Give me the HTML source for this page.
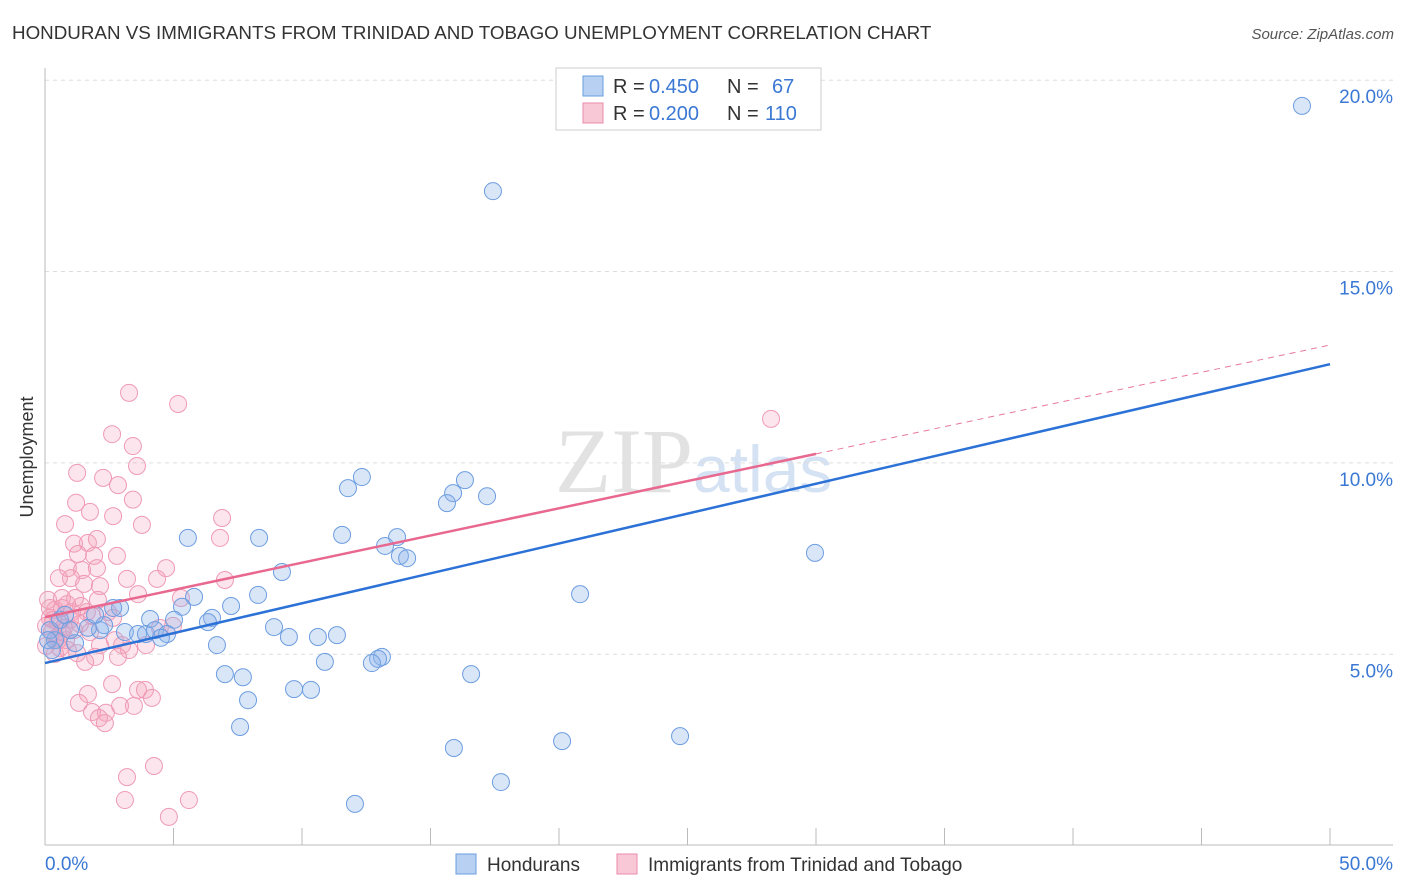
<!DOCTYPE html>
<html><head><meta charset="utf-8"><style>
body{margin:0;background:#fff;font-family:"Liberation Sans",sans-serif}
svg{display:block}
</style></head><body>
<svg width="1406" height="892" xmlns="http://www.w3.org/2000/svg">
<text x="12" y="39" font-size="18.8" fill="#333">HONDURAN VS IMMIGRANTS FROM TRINIDAD AND TOBAGO UNEMPLOYMENT CORRELATION CHART</text>
<text x="1394" y="39" font-size="15" fill="#555" font-style="italic" text-anchor="end">Source: ZipAtlas.com</text>
<text x="0" y="0" transform="translate(33,457) rotate(-90)" font-size="18" fill="#333" text-anchor="middle">Unemployment</text>
<text x="555" y="492" font-size="92" fill="#e2e2e2" font-family="Liberation Serif,serif">ZIP<tspan fill="#d4e2f3" font-family="Liberation Sans,sans-serif" font-size="66">atlas</tspan></text>
<g id="grid"></g><g id="axes"></g><g id="pts"></g><g id="lines"></g>
<g>
<rect x="556" y="68" width="265" height="62" fill="#fff" stroke="#ccc"/>
<rect x="583" y="76" width="20" height="20" fill="#b8d0f2" stroke="#6a9ee0"/>
<rect x="583" y="103" width="20" height="20" fill="#f8c8d6" stroke="#ea8cab"/>
<text x="613" y="93" font-size="20" fill="#333">R =</text>
<text x="649" y="93" font-size="20" fill="#3a78d4">0.450</text>
<text x="727" y="93" font-size="20" fill="#333">N =</text>
<text x="772" y="93" font-size="20" fill="#3a78d4">67</text>
<text x="613" y="120" font-size="20" fill="#333">R =</text>
<text x="649" y="120" font-size="20" fill="#3a78d4">0.200</text>
<text x="727" y="120" font-size="20" fill="#333">N =</text>
<text x="765" y="120" font-size="20" fill="#3a78d4">110</text>
</g>
<g>
<rect x="456" y="854" width="20" height="20" fill="#b8d0f2" stroke="#6a9ee0"/>
<text x="487" y="871" font-size="19" fill="#333">Hondurans</text>
<rect x="617" y="854" width="20" height="20" fill="#f8c8d6" stroke="#ea8cab"/>
<text x="648" y="871" font-size="19" fill="#333">Immigrants from Trinidad and Tobago</text>
</g>
<text x="45" y="870" font-size="19" fill="#3a78d4">0.0%</text>
<text x="1393" y="870" font-size="19" fill="#3a78d4" text-anchor="end">50.0%</text>
</svg>
<script>
const blueX=[48.91,17.43,12.33,11.79,16.34,15.88,15.64,17.20,11.56,13.70,13.23,13.81,14.09,5.56,8.33,29.96,9.22,20.82,8.29,5.80,7.24,5.33,2.92,2.65,4.09,6.50,5.02,6.34,8.91,3.11,3.62,3.93,4.28,4.75,4.51,2.14,2.30,9.49,10.62,11.36,6.69,1.17,0.39,0.19,13.11,12.96,12.72,10.89,7.00,7.70,16.58,9.69,10.35,7.90,7.59,15.91,20.12,24.71,17.74,12.06,0.58,0.12,0.27,1.67,0.78,0.97,1.95];
const blueY=[19.33,17.10,9.63,9.34,9.55,9.21,8.95,9.13,8.12,8.06,7.83,7.57,7.51,8.04,8.04,7.65,7.15,6.57,6.55,6.50,6.26,6.24,6.21,6.21,5.92,5.95,5.90,5.84,5.71,5.58,5.53,5.53,5.63,5.53,5.43,5.63,5.76,5.45,5.45,5.50,5.24,5.29,5.37,5.63,4.93,4.88,4.77,4.80,4.48,4.40,4.48,4.09,4.07,3.80,3.10,2.55,2.73,2.86,1.66,1.09,5.90,5.37,5.11,5.69,6.03,5.63,6.03];
const pinkX=[3.27,5.18,2.61,3.42,3.58,1.25,2.26,2.84,1.21,3.42,1.75,6.89,2.65,0.78,3.77,6.81,1.13,1.67,2.02,2.80,1.28,1.91,0.89,4.71,1.44,2.02,1.01,0.54,3.19,4.36,1.52,2.14,3.62,5.29,7.00,2.06,1.40,0.66,0.39,0.86,1.63,1.17,2.45,2.65,1.83,0.19,0.51,0.97,1.36,0.74,0.27,0.43,1.13,0.04,0.82,0.58,1.75,2.14,4.47,4.98,2.72,3.00,3.27,1.95,2.84,1.56,1.25,0.39,3.93,2.61,1.67,1.32,1.83,2.37,2.10,2.33,3.62,3.89,4.16,2.92,3.46,3.19,4.24,3.11,5.60,4.82,28.25,0.12,0.19,0.66,1.05,0.51,0.04,0.89,0.31,0.66];
const pinkY=[11.83,11.54,10.75,10.44,9.92,9.74,9.61,9.42,8.96,9.04,8.72,8.56,8.61,8.40,8.38,8.04,7.89,7.91,8.01,7.57,7.62,7.57,7.25,7.25,7.20,7.25,6.99,6.99,6.97,6.97,6.84,6.78,6.57,6.47,6.94,6.42,6.26,6.21,6.16,6.31,6.10,6.47,6.10,5.95,6.00,5.95,5.84,5.90,5.79,5.69,5.58,5.43,5.63,5.74,5.37,5.16,5.58,5.24,5.69,5.74,5.37,5.24,5.11,4.93,4.93,4.80,5.03,5.01,5.24,4.22,3.96,3.73,3.49,3.47,3.33,3.20,4.07,4.07,3.86,3.65,3.65,1.79,2.08,1.19,1.19,0.75,11.15,6.42,6.21,6.47,6.10,5.37,5.22,5.11,5.90,5.58];
const yTicks=[5,10,15,20];
const xTicks=[0,5,10,15,20,25,30,35,40,45,50];
const blueTrend=[4.77,12.58];
const pinkTrend=[5.97,13.08];
const pinkSolidEnd=30;

const NS='http://www.w3.org/2000/svg';
const sx=v=>45+v*25.7, sy=v=>845.6-v*38.27;
function mk(tag,parent,attrs){const e=document.createElementNS(NS,tag);for(const k in attrs)e.setAttribute(k,attrs[k]);document.getElementById(parent).appendChild(e);return e;}
yTicks.forEach(t=>{
  const l=mk('line','grid',{x1:45,x2:1393,y1:sy(t),y2:sy(t),stroke:'#ddd','stroke-dasharray':'4,4'});
  
  
  const tx=mk('text','grid',{x:1393,y:sy(t)+23,'font-size':19,fill:'#3a78d4','text-anchor':'end'});
  tx.textContent=t.toFixed(1)+'%';
  
  
});
const ax=mk('line','axes',{x1:45,x2:45,y1:68,y2:845,stroke:'#bbb'});


const bx=mk('line','axes',{x1:45,x2:1393,y1:845,y2:845,stroke:'#bbb'});


xTicks.forEach(t=>{
  const l=mk('line','axes',{x1:sx(t),x2:sx(t),y1:828,y2:845,stroke:'#bbb'});
  
  
});
pinkX.forEach((x,i)=>{
  const c=mk('circle','pts',{cx:sx(x),cy:sy(pinkY[i]),r:8.5,fill:'rgba(243,160,188,0.28)',stroke:'#ef9ab6','stroke-width':1});
  
  
});
blueX.forEach((x,i)=>{
  const c=mk('circle','pts',{cx:sx(x),cy:sy(blueY[i]),r:8.5,fill:'rgba(140,180,235,0.33)',stroke:'#6d9de0','stroke-width':1});
  
  
});
const pAt=x=>pinkTrend[0]+(pinkTrend[1]-pinkTrend[0])*x/50;
const pd=mk('line','lines',{x1:sx(pinkSolidEnd),y1:sy(pAt(pinkSolidEnd)),x2:sx(50),y2:sy(pinkTrend[1]),stroke:'#e8789c','stroke-width':1,'stroke-dasharray':'6,5'});


const ps=mk('line','lines',{x1:sx(0),y1:sy(pinkTrend[0]),x2:sx(pinkSolidEnd),y2:sy(pAt(pinkSolidEnd)),stroke:'#e8688f','stroke-width':2.5});


const bl=mk('line','lines',{x1:sx(0),y1:sy(blueTrend[0]),x2:sx(50),y2:sy(blueTrend[1]),stroke:'#2c72d6','stroke-width':2.5});


</script>
</body></html>
